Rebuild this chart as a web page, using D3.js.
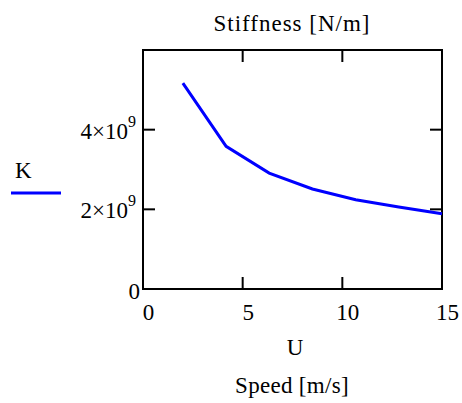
<!DOCTYPE html>
<html lang="en">
<head>
<meta charset="UTF-8">
<title>Stiffness [N/m]</title>
<script src="https://cdn.jsdelivr.net/npm/d3@7"></script>
<style>
  body { margin: 0; background: #fff; }
</style>
</head>
<body>
<svg id="chart" width="462" height="403" font-family="'Liberation Serif', 'DejaVu Serif', serif"></svg>
<script>
// speed U [m/s] and stiffness K [N/m]
const speed = [2, 4.17, 6.33, 8.5, 10.67, 12.83, 15];
const stiffness = [5.17e9, 3.58e9, 2.91e9, 2.51e9, 2.24e9, 2.06e9, 1.89e9];
const xTicks = [0, 5, 10, 15];
const yTicks = [0, 2e9, 4e9];
const yTickLabels = ["0", "2×10", "4×10"];

const svg = d3.select('#chart');
const fs = 23;

const x = d3.scaleLinear().domain([0, 15]).range([143, 442]);
const y = d3.scaleLinear().domain([0, 6e9]).range([289, 50]);

// frame
svg.append('rect')
    .attr('x', x(0)).attr('y', y(6e9))
    .attr('width', x(15) - x(0)).attr('height', y(0) - y(6e9))
    .attr('fill', 'none').attr('stroke', '#000').attr('stroke-width', 2);

// ticks drawn inward on all four sides
const tl = 12;
const gx = svg.append('g');
xTicks.forEach(t => {
    gx.append('line').attr('x1', x(t)).attr('x2', x(t))
        .attr('y1', y(0)).attr('y2', y(0) - tl).attr('stroke', '#000').attr('stroke-width', 2);
    gx.append('line').attr('x1', x(t)).attr('x2', x(t))
        .attr('y1', y(6e9)).attr('y2', y(6e9) + tl).attr('stroke', '#000').attr('stroke-width', 2);
    gx.append('text').attr('x', x(t) + 5.5).attr('y', 320)
        .attr('text-anchor', 'middle').attr('font-size', fs).text(t);
});

const gy = svg.append('g');
yTicks.forEach((t, i) => {
    gy.append('line').attr('x1', x(0)).attr('x2', x(0) + tl)
        .attr('y1', y(t)).attr('y2', y(t)).attr('stroke', '#000').attr('stroke-width', 2);
    gy.append('line').attr('x1', x(15)).attr('x2', x(15) - tl)
        .attr('y1', y(t)).attr('y2', y(t)).attr('stroke', '#000').attr('stroke-width', 2);
    if (t === 0) {
        gy.append('text').attr('x', 140).attr('y', y(t) + 10)
            .attr('text-anchor', 'end').attr('font-size', fs).text(yTickLabels[i]);
    } else {
        gy.append('text').attr('x', 128).attr('y', y(t) + 9)
            .attr('text-anchor', 'end').attr('font-size', fs).text(yTickLabels[i]);
        gy.append('text').attr('x', 128).attr('y', y(t) - 3)
            .attr('font-size', 16).text('9');
    }
});

// data line
const line = d3.line().x((d, i) => x(speed[i])).y(d => y(d));
svg.append('path')
    .datum(stiffness)
    .attr('d', line)
    .attr('fill', 'none')
    .attr('stroke', '#0000ff')
    .attr('stroke-width', 3);

// titles
svg.append('text').attr('x', 292).attr('y', 31).attr('text-anchor', 'middle')
    .attr('font-size', fs).attr('letter-spacing', 1).text('Stiffness [N/m]');
svg.append('text').attr('x', 295).attr('y', 355).attr('text-anchor', 'middle')
    .attr('font-size', fs).text('U');
svg.append('text').attr('x', 292).attr('y', 393).attr('text-anchor', 'middle')
    .attr('font-size', fs).attr('letter-spacing', 0.3).text('Speed [m/s]');

// legend
svg.append('text').attr('x', 15).attr('y', 178).attr('font-size', fs).text('K');
svg.append('line').attr('x1', 11).attr('x2', 61).attr('y1', 193).attr('y2', 193)
    .attr('stroke', '#0000ff').attr('stroke-width', 3);
</script>
</body>
</html>
